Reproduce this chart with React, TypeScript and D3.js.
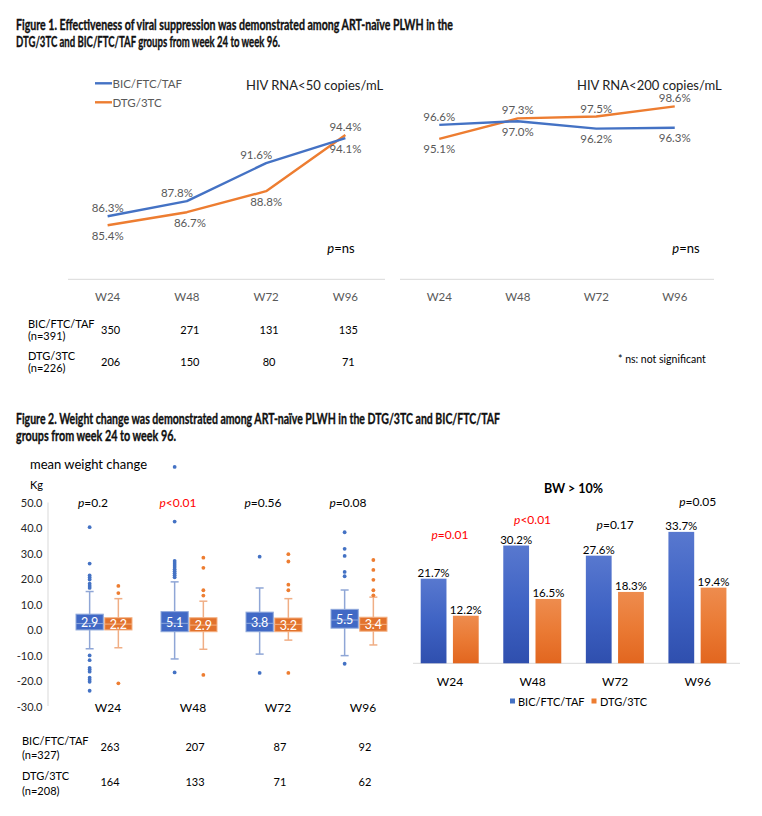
import React from "react";
import * as d3 from "d3";

// ---------- shared ----------
const weeks = ["W24", "W48", "W72", "W96"];
const seriesNames = ["BIC/FTC/TAF", "DTG/3TC"];

// ---------- Figure 1 ----------
const fig1Title = [
  "Figure 1. Effectiveness of viral suppression was demonstrated among ART-naïve PLWH in the",
  "DTG/3TC and BIC/FTC/TAF groups from week 24 to week 96.",
];
const rna50Title = "HIV RNA<50 copies/mL";
const rna200Title = "HIV RNA<200 copies/mL";
const rna50Bic = [86.3, 87.8, 91.6, 94.1];
const rna50Dtg = [85.4, 86.7, 88.8, 94.4];
const rna200Bic = [96.6, 97.0, 96.2, 96.3];
const rna200Dtg = [95.1, 97.3, 97.5, 98.6];
const fig1CountsBic = [350, 271, 131, 135];
const fig1CountsDtg = [206, 150, 80, 71];
const fig1N = ["(n=391)", "(n=226)"];

// ---------- Figure 2 ----------
const fig2Title = [
  "Figure 2. Weight change was demonstrated among ART-naïve PLWH in the DTG/3TC and BIC/FTC/TAF",
  "groups from week 24 to week 96.",
];
const boxTicks = [50, 40, 30, 20, 10, 0, -10, -20, -30];
const bicQ1 = [-0.1, -0.8, -0.8, 0.6];
const bicMedian = [2.4, 2.5, 2.5, 3.8];
const bicQ3 = [6.1, 7.1, 6.9, 8.0];
const bicLow = [-7.5, -11.5, -9.6, -10.2];
const bicHigh = [15.0, 18.8, 16.4, 15.6];
const bicMean = [2.9, 5.1, 3.8, 5.5];
const bicOutliers = [
  [40.3, 26.0, 21.3, 20.5, 19.7, 18.1, 17.2, 16.4, -10.1, -12.0, -15.0, -15.7, -16.5, -18.9, -19.7, -20.5, -24.0],
  [64.0, 42.5, 27.0, 26.2, 25.4, 24.6, 23.8, 23.0, 22.2, 21.4, 20.6, -16.8],
  [28.7, -17.0],
  [38.3, 31.8, 29.0, 22.7, 21.0, -13.4],
];
const dtgQ1 = [-0.1, -0.8, -0.8, -0.6];
const dtgMedian = [2.2, 1.8, 2.1, 2.1];
const dtgQ3 = [4.7, 4.7, 4.6, 4.9];
const dtgLow = [-7.1, -7.7, -4.1, -6.0];
const dtgHigh = [12.2, 11.2, 12.2, 12.8];
const dtgMean = [2.2, 2.9, 3.2, 3.4];
const dtgOutliers = [
  [17.2, 14.4, -21.1],
  [28.3, 24.3, 15.5, 13.4, -17.8],
  [29.7, 26.8, 17.7, 15.5, -17.0],
  [27.4, 23.5, 19.6, 15.5, 13.5],
];
const boxP = ["=0.2", "<0.01", "=0.56", "=0.08"];
const boxPSig = [false, true, false, false];
const fig2CountsBic = [263, 207, 87, 92];
const fig2CountsDtg = [164, 133, 71, 62];
const fig2N = ["(n=327)", "(n=208)"];

const bwTitle = "BW > 10%";
const bwBic = [21.7, 30.2, 27.6, 33.7];
const bwDtg = [12.2, 16.5, 18.3, 19.4];
const bwP = ["=0.01", "<0.01", "=0.17", "=0.05"];
const bwPSig = [true, true, false, false];

// ---------- component ----------
const FONT = "Lato, 'Open Sans', sans-serif";
const BLUE = "#4472C4";
const ORANGE = "#ED7D31";
const GRAY = "#595959";

type Band = d3.ScaleBand<string>;
const mid = (s: Band, w: string) => (s(w) as number) + s.bandwidth() / 2;

function PText({ x, y, rest, sig, size }: { x: number; y: number; rest: string; sig: boolean; size: number }) {
  return (
    <text x={x} y={y} textAnchor="middle" fontSize={size} fill={sig ? "#FF0000" : "#000"} fontFamily={FONT}>
      <tspan fontStyle="italic">p</tspan>
      {rest}
    </text>
  );
}

function LinePanel({
  x, y, bic, dtg, title, titleX, dx, pX,
}: {
  x: Band; y: d3.ScaleLinear<number, number>; bic: number[]; dtg: number[]; title: string; titleX: number; dx: number[][]; pX: number;
}) {
  const line = d3
    .line<number>()
    .x((_, i) => mid(x, weeks[i]))
    .y((d) => y(d));
  const r = x.range();
  const labels: React.ReactNode[] = [];
  weeks.forEach((w, i) => {
    const pairs: [number, number][] = [
      [bic[i], 0],
      [dtg[i], 1],
    ];
    const hi = bic[i] >= dtg[i] ? 0 : 1;
    pairs.forEach(([v, s]) => {
      const above = s === hi;
      labels.push(
        <text
          key={w + s}
          x={mid(x, w) + (dx[s] ? dx[s][i] : 0)}
          y={y(v) + (above ? -8.5 : 10)}
          dominantBaseline="central"
          textAnchor="middle"
          fontSize={11.5}
          fill={GRAY}
          fontFamily={FONT}
        >
          {v.toFixed(1)}%
        </text>
      );
    });
  });
  return (
    <g>
      <line x1={r[0]} x2={r[1]} y1={y(80)} y2={y(80)} stroke="#D9D9D9" strokeWidth={1} />
      {weeks.map((w) => (
        <text key={w} x={mid(x, w)} y={296} dominantBaseline="central" textAnchor="middle" fontSize={11.5} fill={GRAY} fontFamily={FONT}>
          {w}
        </text>
      ))}
      <path d={line(dtg) || ""} fill="none" stroke={ORANGE} strokeWidth={2.4} strokeLinejoin="round" />
      <path d={line(bic) || ""} fill="none" stroke={BLUE} strokeWidth={2.4} strokeLinejoin="round" />
      {labels}
      <text x={titleX} y={84.5} dominantBaseline="central" fontSize={13} fill="#222" fontFamily={FONT}>
        {title}
      </text>
      <text x={pX} y={248} dominantBaseline="central" textAnchor="middle" fontSize={13} fill="#000" fontFamily={FONT}>
        <tspan fontStyle="italic">p</tspan>=ns
      </text>
    </g>
  );
}

export default function App() {
  // Figure 1 scales
  const xL = d3.scaleBand<string>().domain(weeks).range([68, 385]);
  const xR = d3.scaleBand<string>().domain(weeks).range([400, 714]);
  const yL = d3.scaleLinear().domain([80, 100]).range([279.3, 79]);
  const yR = d3.scaleLinear().domain([80, 100]).range([279.3, 93.3]);

  // Figure 2 box scales
  const xB = d3.scaleBand<string>().domain(weeks).range([61.5, 401.5]);
  const xBin = d3.scaleBand<string>().domain(["bic", "dtg"]).range([14.5, 70.5]).paddingInner(0.05);
  const yB = d3.scaleLinear().domain([-30, 50]).range([706, 502.5]);

  // Figure 2 bar scales
  const xG = d3.scaleBand<string>().domain(weeks).range([408.7, 739]);
  const xGin = d3.scaleBand<string>().domain(["bic", "dtg"]).range([12, 70]).paddingInner(0.2);
  const yG = d3.scaleLinear().domain([0, 40]).range([663.3, 507.3]);

  const boxSeries = [
    { key: "bic", q1: bicQ1, med: bicMedian, q3: bicQ3, lo: bicLow, hi: bicHigh, mean: bicMean, out: bicOutliers, fill: "#4169C5", stroke: "#8FA9DC", whisk: "#8FA6D6", dot: BLUE },
    { key: "dtg", q1: dtgQ1, med: dtgMedian, q3: dtgQ3, lo: dtgLow, hi: dtgHigh, mean: dtgMean, out: dtgOutliers, fill: "#E2722C", stroke: "#F4B183", whisk: "#F0AE85", dot: ORANGE },
  ];

  const pLevelDy = [44, 26, 31, 30]; // layout nudges for p labels above bars
  const titleStyle = { fontSize: 14.5, fontWeight: "bold" as const, fontFamily: FONT, fill: "#111", stroke: "#111", strokeWidth: 0.35 };

  return (
    <svg width={762} height={816} style={{ position: "absolute", left: 0, top: 0, background: "#fff" }}>
      <defs>
        <linearGradient id="gBlue" x1="0" y1="0" x2="0" y2="1">
          <stop offset="0" stopColor="#5878CF" />
          <stop offset="0.5" stopColor="#3F63C4" />
          <stop offset="1" stopColor="#2F4FAE" />
        </linearGradient>
        <linearGradient id="gOrange" x1="0" y1="0" x2="0" y2="1">
          <stop offset="0" stopColor="#EE8C4E" />
          <stop offset="0.5" stopColor="#EA7A34" />
          <stop offset="1" stopColor="#E2661F" />
        </linearGradient>
      </defs>
      <rect width={762} height={816} fill="#fff" />

      {/* Figure 1 title */}
      <text x={16} y={30} {...titleStyle} textLength={437} lengthAdjust="spacingAndGlyphs">
        {fig1Title[0]}
      </text>
      <text x={16} y={47.3} {...titleStyle} textLength={264} lengthAdjust="spacingAndGlyphs">
        {fig1Title[1]}
      </text>

      {/* Figure 1 legend */}
      <line x1={95} x2={112} y1={83.3} y2={83.3} stroke={BLUE} strokeWidth={2.4} />
      <text x={112.5} y={83.5} dominantBaseline="central" fontSize={11.5} fill={GRAY} fontFamily={FONT}>{seriesNames[0]}</text>
      <line x1={95} x2={112} y1={102.3} y2={102.3} stroke={ORANGE} strokeWidth={2.4} />
      <text x={112.5} y={102.5} dominantBaseline="central" fontSize={11.5} fill={GRAY} fontFamily={FONT}>{seriesNames[1]}</text>

      <LinePanel x={xL} y={yL} bic={rna50Bic} dtg={rna50Dtg} title={rna50Title} titleX={246} dx={[[0, -10, -10, 0], [0, 3, 0, 0]]} pX={341} />
      <LinePanel x={xR} y={yR} bic={rna200Bic} dtg={rna200Dtg} title={rna200Title} titleX={577} dx={[[0, 0, 0, 0], [0, 0, 0, 0]]} pX={686} />

      {/* Figure 1 table */}
      <text x={28} y={323.5} dominantBaseline="central" fontSize={11} fontFamily={FONT} fill="#000">{seriesNames[0]}</text>
      <text x={28} y={335.5} dominantBaseline="central" fontSize={11} fontFamily={FONT} fill="#000">{fig1N[0]}</text>
      <text x={28} y={355} dominantBaseline="central" fontSize={11} fontFamily={FONT} fill="#000">{seriesNames[1]}</text>
      <text x={28} y={367} dominantBaseline="central" fontSize={11} fontFamily={FONT} fill="#000">{fig1N[1]}</text>
      {weeks.map((w, i) => (
        <g key={w}>
          <text x={mid(xL, w) + 3} y={329.5} dominantBaseline="central" textAnchor="middle" fontSize={11} fontFamily={FONT} fill="#000">{fig1CountsBic[i]}</text>
          <text x={mid(xL, w) + 3} y={361.5} dominantBaseline="central" textAnchor="middle" fontSize={11} fontFamily={FONT} fill="#000">{fig1CountsDtg[i]}</text>
        </g>
      ))}
      <text x={618} y={358.5} dominantBaseline="central" fontSize={10.5} fontFamily={FONT} fill="#000">* ns: not significant</text>

      {/* Figure 2 title */}
      <text x={16} y={424} {...titleStyle} textLength={484} lengthAdjust="spacingAndGlyphs">
        {fig2Title[0]}
      </text>
      <text x={16} y={440.5} {...titleStyle} textLength={160} lengthAdjust="spacingAndGlyphs">
        {fig2Title[1]}
      </text>

      {/* Box plot */}
      <text x={30} y={464} dominantBaseline="central" fontSize={13} fontFamily={FONT} fill="#000">mean weight change</text>
      <text x={30} y={484.5} dominantBaseline="central" fontSize={11} fontFamily={FONT} fill="#000">Kg</text>
      <line x1={48} x2={48} y1={yB(50)} y2={yB(-30)} stroke="#D9D9D9" />
      {boxTicks.map((t) => (
        <text key={t} x={42.5} y={yB(t)} dominantBaseline="central" textAnchor="end" fontSize={11} fontFamily={FONT} fill="#262626">
          {t.toFixed(1)}
        </text>
      ))}
      {weeks.map((w, i) => {
        const g0 = xB(w) as number;
        return (
          <g key={w}>
            {boxSeries.map((s) => {
              const bx = g0 + (xBin(s.key) as number);
              const bw = xBin.bandwidth();
              const c = bx + bw / 2;
              return (
                <g key={s.key}>
                  <line x1={c} x2={c} y1={yB(s.hi[i])} y2={yB(s.q3[i])} stroke={s.whisk} strokeWidth={1.5} />
                  <line x1={c} x2={c} y1={yB(s.q1[i])} y2={yB(s.lo[i])} stroke={s.whisk} strokeWidth={1.5} />
                  <line x1={c - 4} x2={c + 4} y1={yB(s.hi[i])} y2={yB(s.hi[i])} stroke={s.whisk} strokeWidth={1.5} />
                  <line x1={c - 4} x2={c + 4} y1={yB(s.lo[i])} y2={yB(s.lo[i])} stroke={s.whisk} strokeWidth={1.5} />
                  <rect x={bx} y={yB(s.q3[i])} width={bw} height={yB(s.q1[i]) - yB(s.q3[i])} fill={s.fill} stroke={s.stroke} strokeWidth={1} />
                  <line x1={bx} x2={bx + bw} y1={yB(s.med[i])} y2={yB(s.med[i])} stroke={s.stroke} strokeWidth={1} />
                  {s.out[i].filter((v) => v <= 70).map((v, k) => (
                    <circle key={k} cx={c} cy={yB(v)} r={1.9} fill={s.dot} />
                  ))}
                  <text x={c} y={(yB(s.q1[i]) + yB(s.q3[i])) / 2 + 0.5} dominantBaseline="central" textAnchor="middle" fontSize={12.5} fill="#fff" fontFamily={FONT}>
                    {s.mean[i].toFixed(1)}
                  </text>
                </g>
              );
            })}
            <PText x={mid(xB, w) - 11} y={507} rest={boxP[i]} sig={boxPSig[i]} size={12} />
            <text x={mid(xB, w) + 4} y={707} dominantBaseline="central" textAnchor="middle" fontSize={12} fontFamily={FONT} fill="#000">{w}</text>
            <text x={mid(xB, w) + 6} y={746.5} dominantBaseline="central" textAnchor="middle" fontSize={11} fontFamily={FONT} fill="#000">{fig2CountsBic[i]}</text>
            <text x={mid(xB, w) + 6} y={781.5} dominantBaseline="central" textAnchor="middle" fontSize={11} fontFamily={FONT} fill="#000">{fig2CountsDtg[i]}</text>
          </g>
        );
      })}
      <text x={22} y={740} dominantBaseline="central" fontSize={11} fontFamily={FONT} fill="#000">{seriesNames[0]}</text>
      <text x={22} y={754.5} dominantBaseline="central" fontSize={11} fontFamily={FONT} fill="#000">{fig2N[0]}</text>
      <text x={22} y={775} dominantBaseline="central" fontSize={11} fontFamily={FONT} fill="#000">{seriesNames[1]}</text>
      <text x={22} y={790} dominantBaseline="central" fontSize={11} fontFamily={FONT} fill="#000">{fig2N[1]}</text>

      {/* Bar chart */}
      <text x={573.5} y={488.5} dominantBaseline="central" textAnchor="middle" fontSize={12.5} fontWeight="bold" fontFamily={FONT} fill="#000">{bwTitle}</text>
      <line x1={413} x2={740} y1={yG(0)} y2={yG(0)} stroke="#D9D9D9" />
      {weeks.map((w, i) => {
        const g0 = xG(w) as number;
        const bars = [
          { key: "bic", v: bwBic[i], fill: "url(#gBlue)" },
          { key: "dtg", v: bwDtg[i], fill: "url(#gOrange)" },
        ];
        const top = yG(Math.max(bwBic[i], bwDtg[i]));
        return (
          <g key={w}>
            {bars.map((b) => {
              const bx = g0 + (xGin(b.key) as number);
              return (
                <g key={b.key}>
                  <rect x={bx} y={yG(b.v)} width={xGin.bandwidth()} height={yG(0) - yG(b.v)} fill={b.fill} />
                  <text x={bx + xGin.bandwidth() / 2} y={yG(b.v) - 2} textAnchor="middle" fontSize={11.5} fontFamily={FONT} fill="#000">
                    {b.v.toFixed(1)}%
                  </text>
                </g>
              );
            })}
            <PText x={mid(xG, w)} y={top - pLevelDy[i] + 4} rest={bwP[i]} sig={bwPSig[i]} size={12} />
            <text x={mid(xG, w)} y={681} dominantBaseline="central" textAnchor="middle" fontSize={12} fontFamily={FONT} fill="#000">{w}</text>
          </g>
        );
      })}
      <rect x={510} y={698.5} width={5} height={5} fill={BLUE} />
      <text x={518} y={701.3} dominantBaseline="central" fontSize={11} fontFamily={FONT} fill="#000">{seriesNames[0]}</text>
      <rect x={591.5} y={698.5} width={5} height={5} fill={ORANGE} />
      <text x={600} y={701.3} dominantBaseline="central" fontSize={11} fontFamily={FONT} fill="#000">{seriesNames[1]}</text>
    </svg>
  );
}
